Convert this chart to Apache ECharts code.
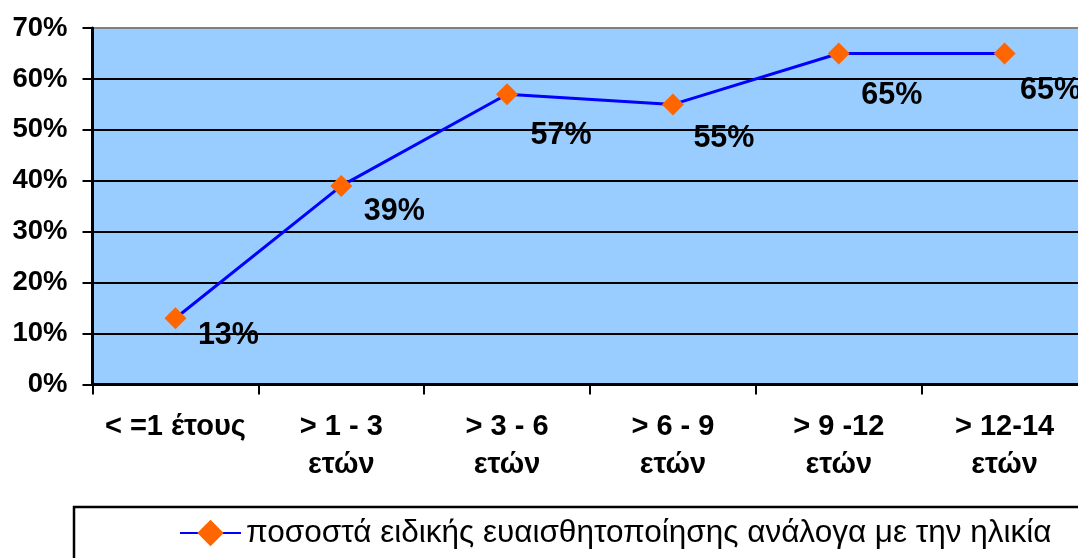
<!DOCTYPE html>
<html>
<head>
<meta charset="utf-8">
<title>Ευαισθητοποίηση ανά ηλικία</title>
<script src="https://cdn.jsdelivr.net/npm/echarts@6/dist/echarts.min.js"></script>
<style>
  html, body { margin: 0; padding: 0; background: #ffffff; }
  #chart { width: 1078px; height: 558px; }
</style>
</head>
<body>
<div id="chart"></div>
<script>
// Age groups (x axis)
const categories = [
  '< =1 έτους',
  '> 1 - 3\nετών',
  '> 3 - 6\nετών',
  '> 6 - 9\nετών',
  '> 9 -12\nετών',
  '> 12-14\nετών'
];
// Share with specific awareness per age group (%)
const values = [13, 39, 57, 55, 65, 65];
const seriesName = 'ποσοστά ειδικής ευαισθητοποίησης ανάλογα με την ηλικία';
// Y axis range and step (%)
const yMin = 0;
const yMax = 70;
const yStep = 10;

const FONT = '"Liberation Sans", Arial, sans-serif';

// Where each value label sits relative to its marker
const labelShift = [[53, 17], [53, 26], [54, 41], [51, 34], [53, 42], [46, 37]];

const chart = echarts.init(document.getElementById('chart'), null, { renderer: 'canvas' });

const splitColors = [];
for (let v = yMin; v <= yMax; v += yStep) splitColors.push(v === yMax ? '#808080' : '#000000');

chart.setOption({
  animation: false,
  backgroundColor: '#ffffff',
  grid: {
    left: 92.5, right: -9.5, top: 28, bottom: 173.5,
    outerBoundsMode: 'none', containLabel: false,
    show: true, backgroundColor: '#99CCFF', borderWidth: 0
  },
  xAxis: {
    type: 'category',
    data: categories,
    boundaryGap: true,
    axisLine: { show: true, lineStyle: { color: '#000000', width: 3 } },
    axisTick: { show: true, alignWithLabel: false, length: 10, lineStyle: { color: '#000000', width: 2 } },
    axisLabel: {
      interval: 0, margin: 23, color: '#000000',
      fontFamily: FONT, fontWeight: 'bold', fontSize: 29, lineHeight: 38
    },
    splitLine: { show: false }
  },
  yAxis: {
    type: 'value',
    min: yMin, max: yMax, interval: yStep,
    axisLine: { show: true, lineStyle: { color: '#000000', width: 3 } },
    axisTick: { show: true, length: 10, lineStyle: { color: '#000000', width: 2 } },
    axisLabel: {
      formatter: '{value}%', margin: 25, color: '#000000',
      fontFamily: FONT, fontWeight: 'bold', fontSize: 27.5
    },
    splitLine: { show: true, lineStyle: { color: splitColors, width: 2 } }
  },
  legend: {
    left: 174, top: 512,
    itemWidth: 61, itemHeight: 33, itemGap: 10,
    textStyle: { color: '#000000', fontFamily: FONT, fontSize: 31.5 },
    data: [seriesName]
  },
  graphic: [{
    type: 'rect', z: -1, silent: true,
    shape: { x: 74, y: 507, width: 1100, height: 120 },
    style: { fill: '#ffffff', stroke: '#000000', lineWidth: 2.5 }
  }],
  series: [{
    name: seriesName,
    type: 'line',
    data: values.map((v, i) => ({
      value: v,
      label: { offset: labelShift[i] }
    })),
    symbol: 'diamond',
    symbolSize: 22,
    lineStyle: { color: '#0000FF', width: 3 },
    itemStyle: { color: '#FF6600' },
    label: {
      show: true, position: 'inside',
      align: 'center', verticalAlign: 'middle',
      formatter: p => p.value + '%',
      color: '#000000', fontFamily: FONT, fontWeight: 'bold', fontSize: 30.5
    },
    z: 3
  }]
});
</script>
</body>
</html>
